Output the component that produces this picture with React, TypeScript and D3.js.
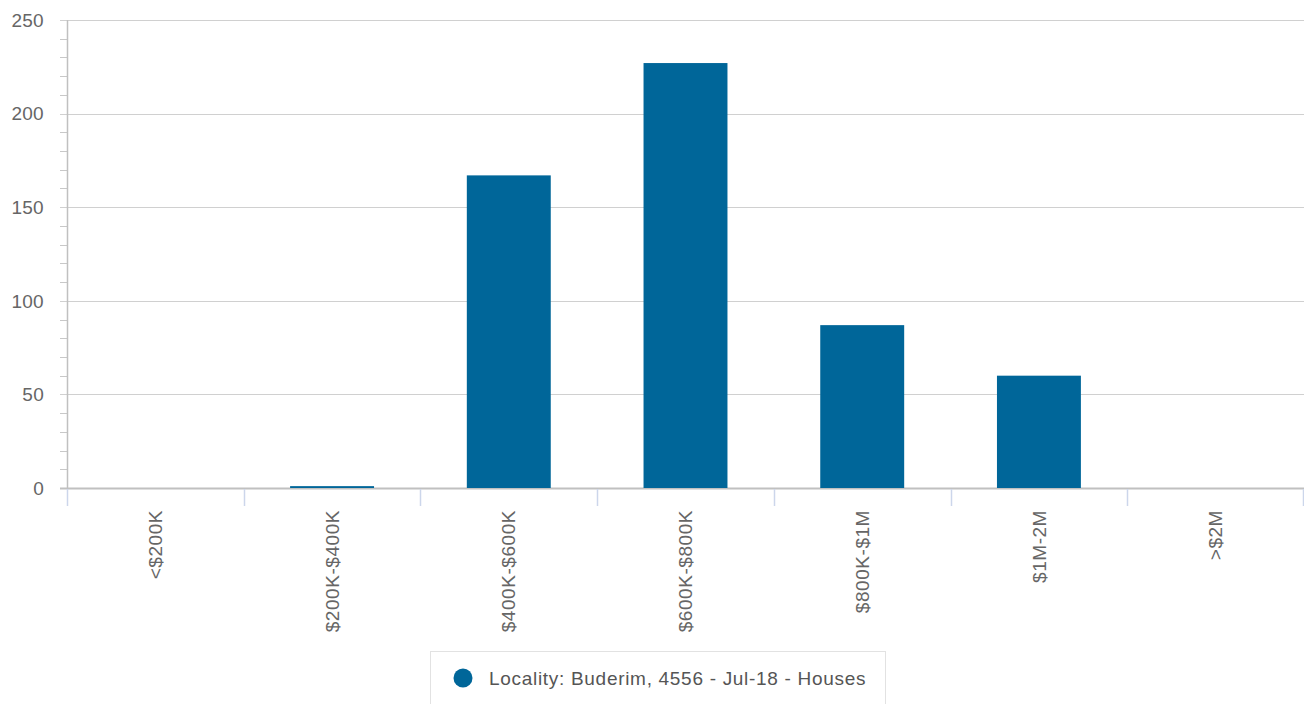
import React from "react";
import * as d3 from "d3";

const categories = ["<$200K", "$200K-$400K", "$400K-$600K", "$600K-$800K", "$800K-$1M", "$1M-2M", ">$2M"];
const values = [0, 1, 167, 227, 87, 60, 0];
const yTicks = [0, 50, 100, 150, 200, 250];
const seriesName = "Locality: Buderim, 4556 - Jul-18 - Houses";

const W = 1304;
const H = 704;
const left = 67;
const right = 1304;
const top = 20;
const bottom = 488;
const barColor = "#006699";
const textColor = "#666666";
const font = "'Liberation Sans', Arial, sans-serif";

export default function App() {
  const x = d3.scaleBand<string>().domain(categories).range([left, right]).paddingInner(0).paddingOuter(0);
  const y = d3.scaleLinear().domain([0, 250]).range([bottom, top]);
  const bw = x.bandwidth() * 0.475;
  const minor = d3.range(0, 251, 10);
  const boundaries = categories.map((c) => x(c) as number).concat([right - 1]);

  return (
    <svg width={W} height={H} style={{ position: "absolute", left: 0, top: 0, fontFamily: font }}>
      <rect x={0} y={0} width={W} height={H} fill="#ffffff" />
      {minor.map((v) => (
        <line key={"m" + v} x1={60} x2={left} y1={Math.round(y(v)) + 0.5} y2={Math.round(y(v)) + 0.5} stroke="#c8c8c8" strokeWidth={1} />
      ))}
      {yTicks.map((v) => (
        <g key={"g" + v}>
          <line x1={60} x2={right} y1={Math.round(y(v)) + 0.5} y2={Math.round(y(v)) + 0.5} stroke={v === 0 ? "#c0c0c0" : "#d0d0d0"} strokeWidth={v === 0 ? 2 : 1.2} />
          <text x={44} y={y(v)} dy="0.36em" textAnchor="end" fontSize={19} fill={textColor} letterSpacing={0.3}>{v}</text>
        </g>
      ))}
      <line x1={left + 0.5} x2={left + 0.5} y1={top} y2={bottom} stroke="#c0c0c0" strokeWidth={1.5} />
      {boundaries.map((bx, i) => (
        <line key={"t" + i} x1={Math.round(bx) + 0.5} x2={Math.round(bx) + 0.5} y1={bottom + 1} y2={bottom + 18} stroke="#ccd6eb" strokeWidth={1.5} />
      ))}
      {categories.map((c, i) => {
        const cx = (x(c) as number) + x.bandwidth() / 2;
        const h = bottom - y(values[i]);
        return values[i] > 0 ? (
          <rect key={"b" + c} x={cx - bw / 2} y={y(values[i])} width={bw} height={h} fill={barColor} />
        ) : null;
      })}
      {categories.map((c) => {
        const cx = (x(c) as number) + x.bandwidth() / 2;
        return (
          <text key={"l" + c} transform={`translate(${cx},${bottom + 22}) rotate(-90)`} textAnchor="end" dy="0.35em" fontSize={19} fill={textColor} letterSpacing={0.55}>
            {c}
          </text>
        );
      })}
      <rect x={430.5} y={651.5} width={455} height={60} fill="#ffffff" stroke="#e2e2e2" strokeWidth={1} />
      <circle cx={463} cy={678} r={9.5} fill={barColor} />
      <text x={489} y={678} dy="0.36em" fontSize={19} fill="#555555" letterSpacing={0.7}>{seriesName}</text>
    </svg>
  );
}
